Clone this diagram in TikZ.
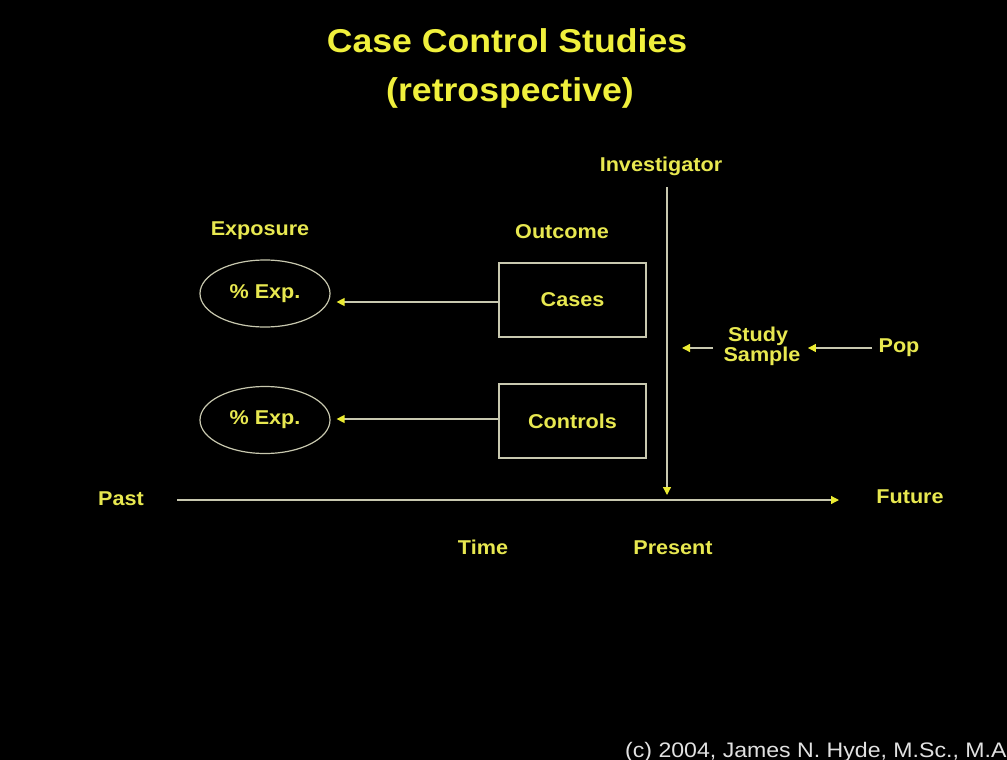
\documentclass[tikz,border=0pt]{standalone}
\usepackage{fontspec}
\setmainfont{Liberation Sans}[FakeStretch=1.08]
\newfontfamily\creditfont{Liberation Sans}[FakeStretch=1.1]
\usetikzlibrary{arrows.meta,shapes.geometric}
\definecolor{titleyellow}{RGB}{240,240,60}
\definecolor{labelyellow}{RGB}{232,232,80}
\definecolor{linegray}{RGB}{200,200,175}
\definecolor{tipyellow}{RGB}{235,235,50}
\definecolor{creditgray}{RGB}{225,225,225}
\tikzset{
  title/.style={text=titleyellow, font=\fontsize{33}{38}\selectfont\bfseries, anchor=base},
  label/.style={text=labelyellow, font=\fontsize{20}{22}\selectfont\bfseries, anchor=base},
  expoval/.style={ellipse, draw=linegray, line width=1.2pt, minimum width=130pt,
    minimum height=67pt, inner sep=0pt, text=labelyellow, font=\fontsize{20}{22}\selectfont\bfseries},
  groupbox/.style={rectangle, draw=linegray, line width=1.2pt, minimum width=147pt,
    minimum height=74pt, inner sep=0pt, text=labelyellow, font=\fontsize{20}{22}\selectfont\bfseries},
  conn/.style={draw=linegray, line width=1.3pt, -{Triangle[length=8pt,width=8pt,color=tipyellow]}},
}
\begin{document}
\begin{tikzpicture}[x=1pt,y=-1pt]
  \fill[black] (0,0) rectangle (1007,760);
  \useasboundingbox (0,0) rectangle (1007,760);
  \clip (0,0) rectangle (1007,760);

  % title
  \node[title] (t1) at (507,53) {Case Control Studies};
  \node[title] (t2) at (510,102) {(retrospective)};

  % column headings
  \node[label] (inv) at (661,171) {Investigator};
  \node[label] (expo) at (260,235) {Exposure};
  \node[label] (outc) at (562,238) {Outcome};

  % exposure ovals and outcome groups
  \node[expoval] (exp1) at (265,293.5) {\% Exp.};
  \node[expoval] (exp2) at (265,420) {\% Exp.};
  \node[groupbox] (cases) at (572.5,300) {Cases};
  \node[groupbox] (ctrl) at (572.5,421) {Controls};

  \draw[conn, shorten >=6pt] ([yshift=-2pt]cases.west) -- ([yshift=-2pt]cases.west -| exp1.east);
  \draw[conn, shorten >=6pt] ([yshift=2pt]ctrl.west) -- ([yshift=2pt]ctrl.west -| exp2.east);

  % time axis
  \coordinate (tstart) at (177,500);
  \coordinate (tend) at (839,500);
  \coordinate (invtop) at (667,187);
  \coordinate (now) at (667,500);
  \draw[conn] (tstart) -- (tend);
  \draw[conn, shorten >=5pt] (invtop) -- (now);

  \node[label] (past) at (121,505) {Past};
  \node[label] (future) at (910,503) {Future};
  \node[label] (time) at (483,554) {Time};
  \node[label] (present) at (673,554) {Present};

  % sampling from the population
  \node[label, anchor=center, align=center, font=\fontsize{20}{20}\selectfont\bfseries] (sample) at (758,346) {Study\\\hspace*{8pt}Sample};
  \node[label, anchor=center] (pop) at (899,348) {Pop};
  \draw[conn, shorten <=3pt, shorten >=4pt] (pop.west |- 0,348) -- (sample.east |- 0,348);
  \coordinate (samplefoot) at (713,348);
  \draw[conn] (samplefoot) -- (682,348);

  % credit line
  \node[text=creditgray, font=\creditfont\fontsize{21}{22}\selectfont, anchor=base west, inner sep=0pt] (credit) at (625,757) {(c) 2004, James N. Hyde, M.Sc., M.A};
\end{tikzpicture}
\end{document}
